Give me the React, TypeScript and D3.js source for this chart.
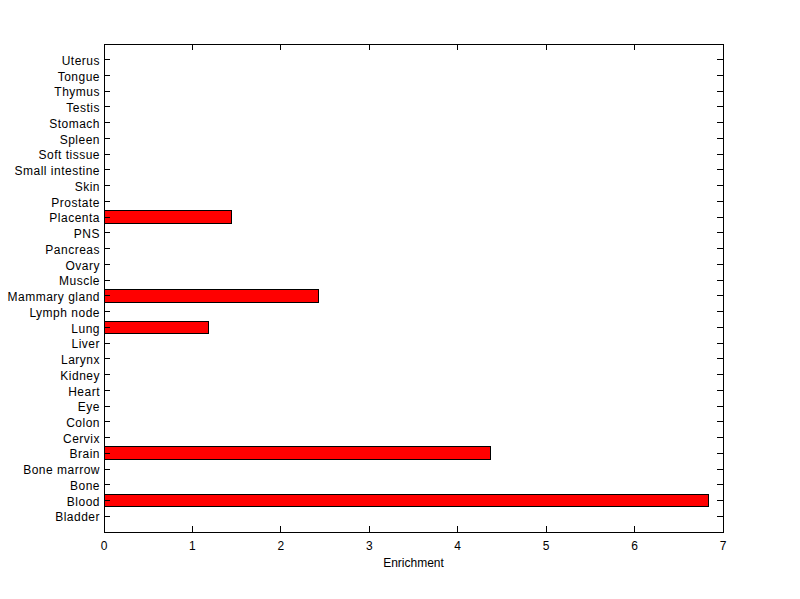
import React, { useRef, useEffect } from 'react';
import * as d3 from 'd3';

// Tissues, bottom to top as in the picture
const tissues = [
  'Bladder', 'Blood', 'Bone', 'Bone marrow', 'Brain', 'Cervix', 'Colon', 'Eye',
  'Heart', 'Kidney', 'Larynx', 'Liver', 'Lung', 'Lymph node', 'Mammary gland',
  'Muscle', 'Ovary', 'Pancreas', 'PNS', 'Placenta', 'Prostate', 'Skin',
  'Small intestine', 'Soft tissue', 'Spleen', 'Stomach', 'Testis', 'Thymus',
  'Tongue', 'Uterus',
];
const enrichment = [
  0, 6.84, 0, 0, 4.37, 0, 0, 0,
  0, 0, 0, 0, 1.18, 0, 2.43,
  0, 0, 0, 0, 1.44, 0, 0,
  0, 0, 0, 0, 0, 0,
  0, 0,
];
const xTicks = [0, 1, 2, 3, 4, 5, 6, 7];

const App = () => {
  const svgRef = useRef<SVGSVGElement>(null);

  const W = 800;
  const H = 599;
  const margin = { top: 44, right: 77, bottom: 67, left: 104 };
  const width = W - margin.left - margin.right;
  const height = H - margin.top - margin.bottom;

  useEffect(() => {
    const root = d3.select(svgRef.current);
    root.selectAll('*').remove();

    const svg = root
      .append('g')
      .attr('transform', `translate(${margin.left},${margin.top})`);

    const x = d3.scaleLinear().domain([0, 7]).range([0, width]);
    // categories sit at 1..n, axis runs 0..n+1
    const y = d3.scaleLinear().domain([0, tissues.length + 1]).range([height, 0]);
    const barH = (y(0) - y(1)) * 0.8;
    const font = 'Liberation Sans, Arial, Helvetica, sans-serif';

    // bars (only non-zero ones are visible)
    svg
      .selectAll('rect.bar')
      .data(tissues.map((t, i) => ({ t, v: enrichment[i], i })).filter((d) => d.v > 0))
      .enter()
      .append('rect')
      .attr('class', 'bar')
      .attr('x', x(0))
      .attr('y', (d) => y(d.i + 1) - barH / 2)
      .attr('width', (d) => x(d.v) - x(0))
      .attr('height', barH)
      .attr('fill', '#ff0000')
      .attr('stroke', '#000')
      .attr('stroke-width', 1);

    // frame
    svg
      .append('rect')
      .attr('x', 0)
      .attr('y', 0)
      .attr('width', width)
      .attr('height', height)
      .attr('fill', 'none')
      .attr('stroke', '#000')
      .attr('stroke-width', 1);

    const tickLen = 6;

    // x ticks, inward on bottom and top
    xTicks.forEach((t) => {
      svg.append('line')
        .attr('x1', x(t)).attr('x2', x(t))
        .attr('y1', height).attr('y2', height - tickLen)
        .attr('stroke', '#000');
      svg.append('line')
        .attr('x1', x(t)).attr('x2', x(t))
        .attr('y1', 0).attr('y2', tickLen)
        .attr('stroke', '#000');
      svg.append('text')
        .attr('x', x(t))
        .attr('y', height + 18)
        .attr('text-anchor', 'middle')
        .style('font-family', font)
        .style('font-size', '12px')
        .text(t);
    });

    // y ticks, inward on left and right
    tissues.forEach((t, i) => {
      const yy = y(i + 1);
      svg.append('line')
        .attr('x1', 0).attr('x2', tickLen)
        .attr('y1', yy).attr('y2', yy)
        .attr('stroke', '#000');
      svg.append('line')
        .attr('x1', width).attr('x2', width - tickLen)
        .attr('y1', yy).attr('y2', yy)
        .attr('stroke', '#000');
      svg.append('text')
        .attr('x', -4)
        .attr('y', yy + 1)
        .attr('dy', '0.35em')
        .attr('text-anchor', 'end')
        .style('font-family', font)
        .style('font-size', '12px')
        .style('letter-spacing', '0.5px')
        .text(t);
    });

    // axis label
    svg
      .append('text')
      .attr('x', width / 2)
      .attr('y', height + 35)
      .attr('text-anchor', 'middle')
      .style('font-family', font)
      .style('font-size', '12px')
      .text('Enrichment');
  }, []);

  return (
    <svg
      ref={svgRef}
      width={W}
      height={H}
      style={{ position: 'absolute', left: 0, top: 0, background: '#fff' }}
      shapeRendering="crispEdges"
    />
  );
};

export default App;
